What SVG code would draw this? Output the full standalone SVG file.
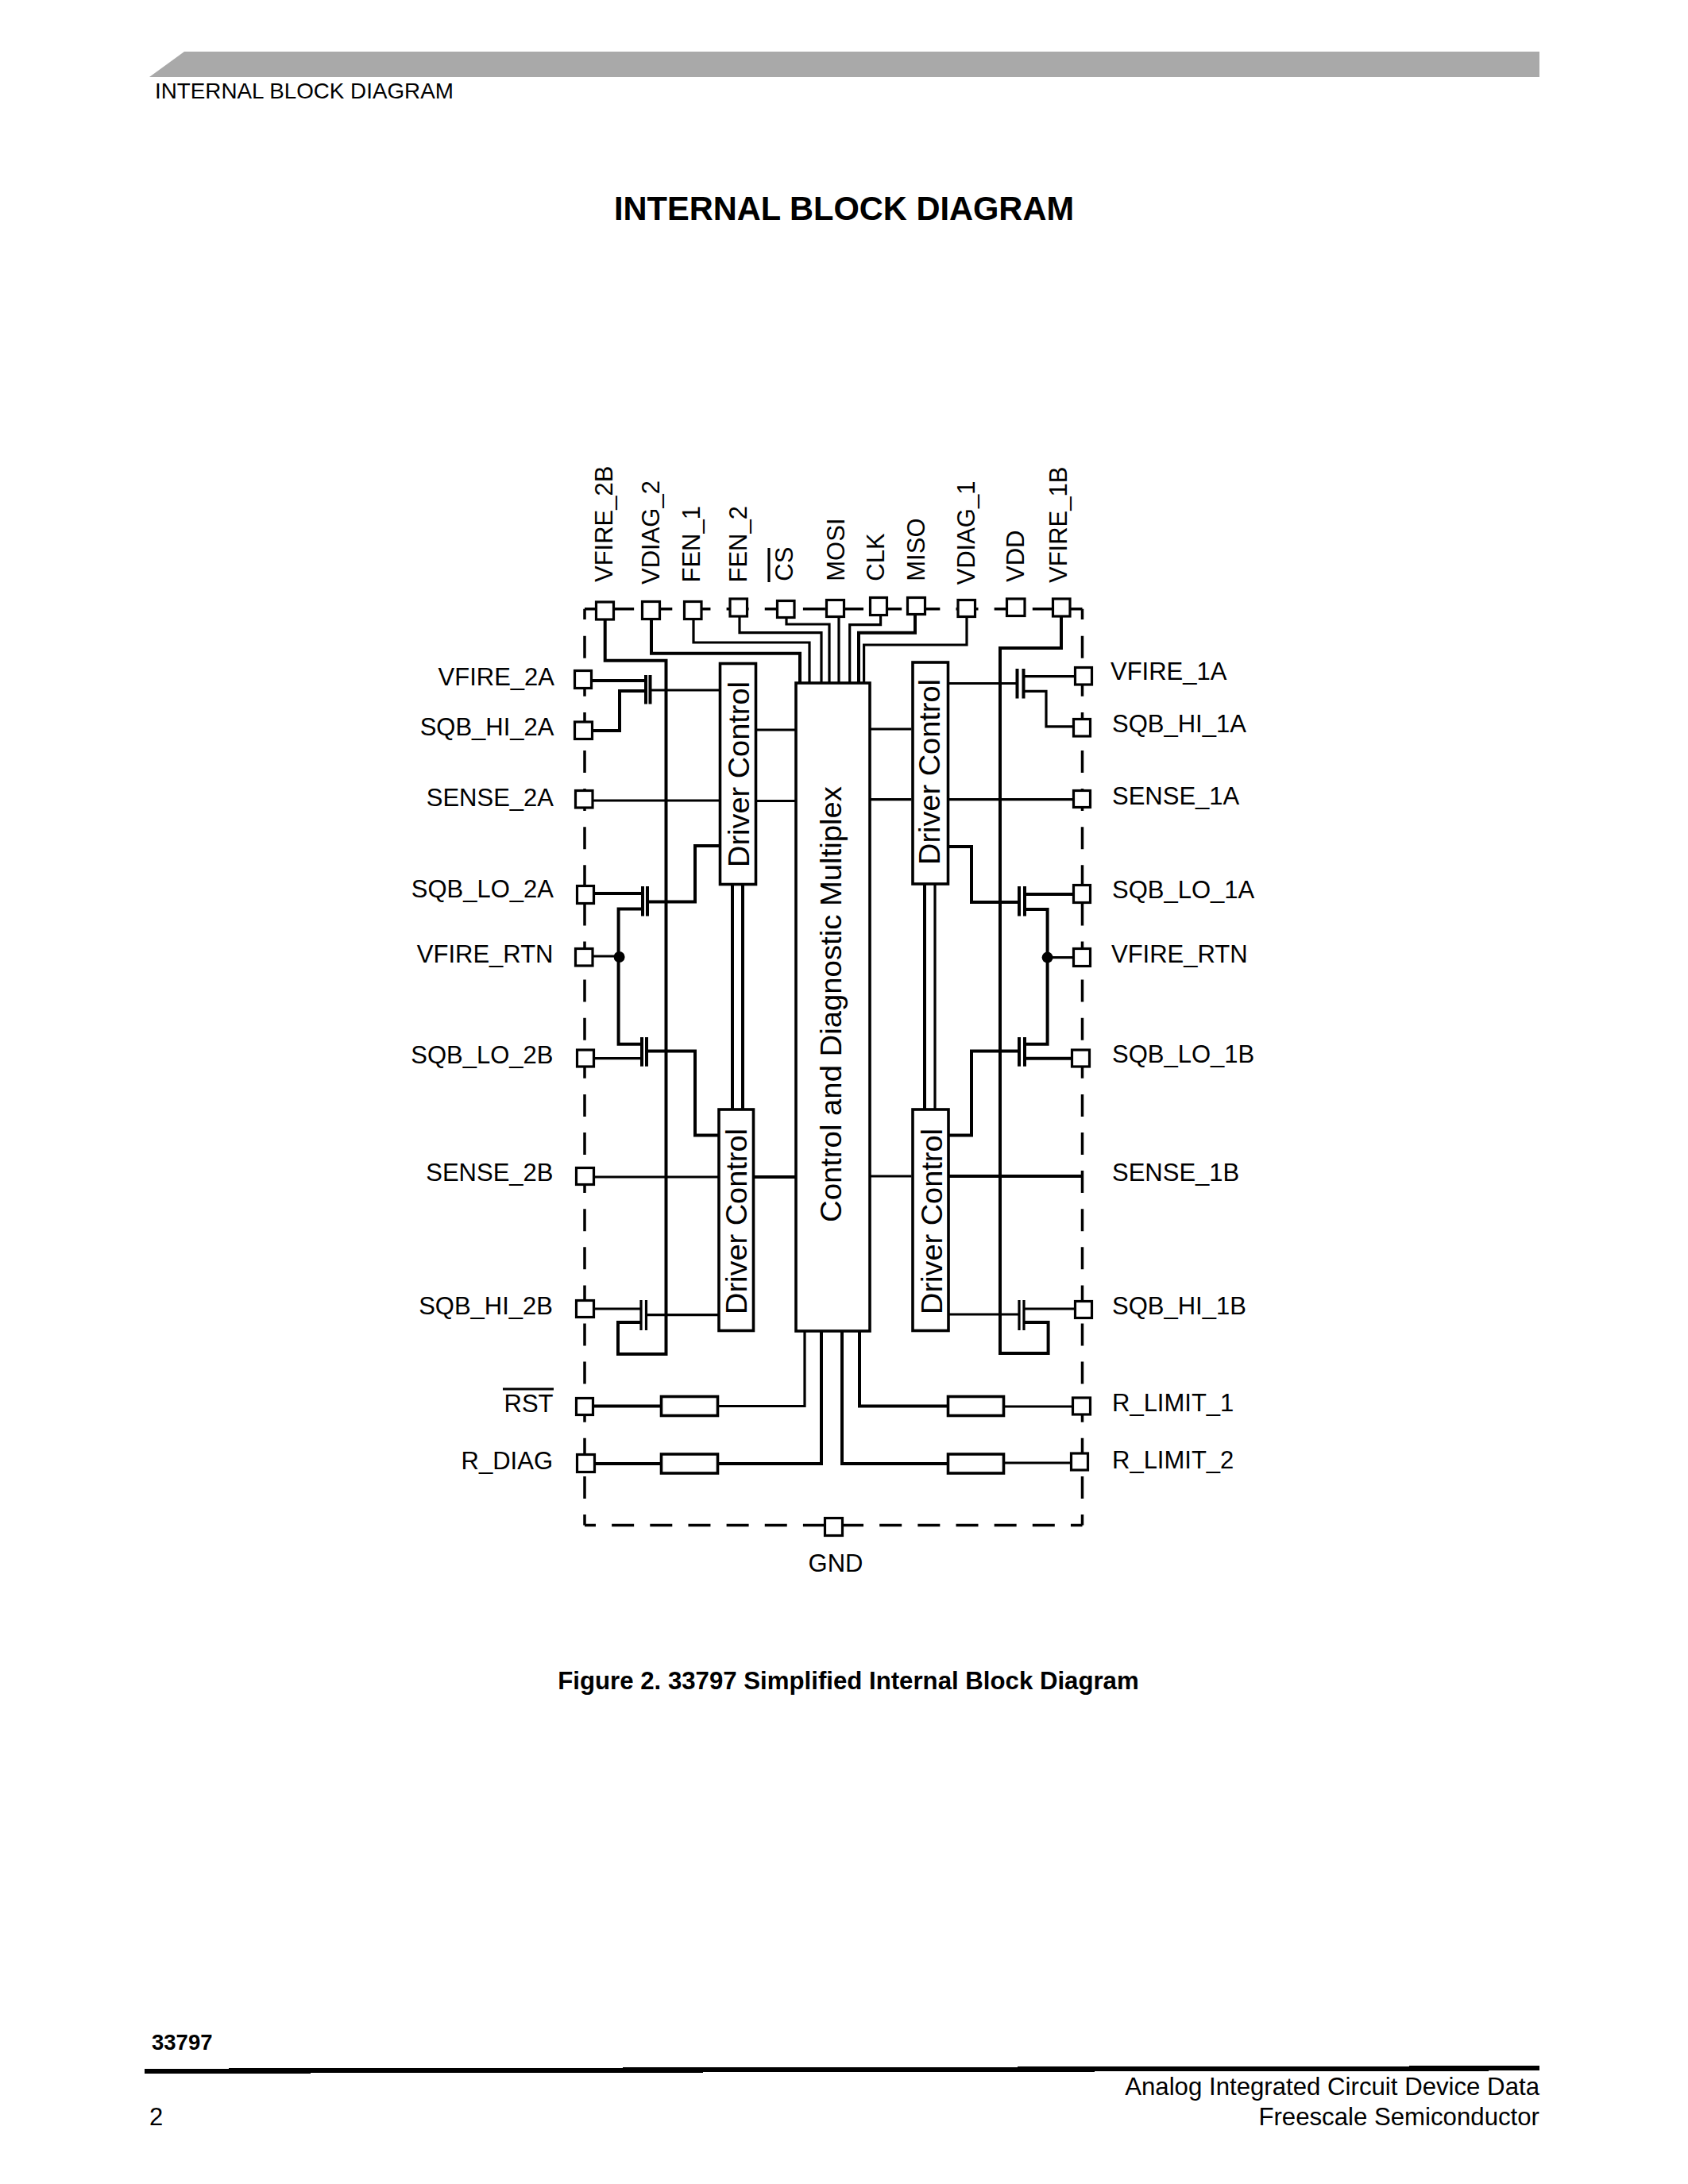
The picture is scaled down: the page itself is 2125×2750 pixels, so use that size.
<svg xmlns="http://www.w3.org/2000/svg" width="2125" height="2750" viewBox="0 0 2125 2750">
<style>
text{font-family:"Liberation Sans",Arial,sans-serif;fill:#000}
.l{font-size:31px}
.e{text-anchor:end}
.b{font-weight:bold}
.pad{fill:#fff;stroke:#000;stroke-width:3.2}
.box{fill:#fff;stroke:#000;stroke-width:3.6}
.w{fill:none;stroke:#000;stroke-width:3.2;stroke-linejoin:miter}
.t{fill:none;stroke:#000;stroke-width:4;stroke-linejoin:miter}
.d{fill:none;stroke:#000;stroke-width:3.5;stroke-dasharray:28 20.1}
.dh{fill:none;stroke:#000;stroke-width:3.5;stroke-dasharray:28 20.15;stroke-dashoffset:14}
.ln{fill:none;stroke:#000;stroke-width:3.2}
</style>
<rect width="2125" height="2750" fill="#fff"/>
<g id="page">
<polygon points="188,97 232,65 1938,65 1938,97" fill="#a9a9a9"/>
<text x="195" y="124" font-size="27.8">INTERNAL BLOCK DIAGRAM</text>
<text x="1062.5" y="277" font-size="41.6" class="b" text-anchor="middle">INTERNAL BLOCK DIAGRAM</text>
<text x="1068" y="2127" font-size="31.2" class="b" text-anchor="middle">Figure 2. 33797 Simplified Internal Block Diagram</text>
<text x="191" y="2581" font-size="27.5" class="b">33797</text>
<polygon points="182,2605 288,2605 288,2604 784,2604 784,2603 1281,2603 1281,2602 1774,2602 1774,2601 1938,2601 1938,2607 1874,2607 1874,2608 1378,2608 1378,2609 885,2609 885,2610 391,2610 391,2611 182,2611"/>
<text x="1938" y="2638" font-size="31.2" text-anchor="end">Analog Integrated Circuit Device Data</text>
<text x="1938" y="2676" font-size="31.2" text-anchor="end">Freescale Semiconductor</text>
<text x="188" y="2676" font-size="31">2</text>
</g>
<g id="boundary">
<path class="d" d="M736,800.7V1920.5"/>
<path class="d" d="M1362.5,800.7V1920.5"/>
<path class="dh" d="M736,1920.5H1362.5"/>
<path class="dh" d="M736,766.7H1362.5"/>
<path class="ln" style="stroke-width:3.5" d="M736,780V766.7M1362.5,780V766.7"/>
</g>
<g id="connectors">
<path class="t" d="M761.7,781V831.7H838.5V1705H778V1665H807"/>
<path class="t" d="M820,781V822.7H1007V859"/>
<path class="w" d="M873,781V809H1019V859"/>
<path class="w" d="M931,777V796.7H1034V859"/>
<path class="w" d="M990,779V786H1044V859"/>
<path class="w" d="M1056,778V859"/>
<path class="w" d="M1108.6,775V786.7H1069.7V859"/>
<path class="t" d="M1152,775V796.7H1081V859"/>
<path class="w" d="M1217,777V812H1087.6V859"/>
<path class="t" d="M1336,777V816H1259V1704H1319.6V1665H1289"/>
<path class="t" d="M746,857H812"/>
<path class="t" d="M747,920H780V870H812"/>
<path class="w" d="M818,869H905"/>
<path class="w" d="M747,1008H905"/>
<path class="w" d="M952,919H1001M952,1008.5H1001"/>
<path class="t" d="M905,1065H875V1135.6H815"/>
<path class="t" d="M749,1125H809"/>
<path class="t" d="M809,1144.5H778.6V1314.7H808"/>
<path class="w" d="M746,1204H780"/>
<path class="w" d="M749,1332.7H808"/>
<path class="t" d="M814,1323.5H875V1429.5H904"/>
<path class="t" d="M922,1114V1396M935,1114V1396"/>
<path class="w" d="M749,1482H906"/>
<path class="t" d="M949,1482H1001"/>
<path class="w" d="M748,1648H806"/>
<path class="w" d="M813,1655.6H904"/>
<path class="t" d="M747,1770.5H831"/>
<path class="w" d="M904,1770.5H1013V1676"/>
<path class="t" d="M750,1843H831"/>
<path class="t" d="M904,1843H1034V1676"/>
<path class="t" d="M1060,1676V1843H1192"/>
<path class="t" d="M1082,1676V1770.5H1192"/>
<path class="w" d="M1264,1771H1349"/>
<path class="w" d="M1264,1842H1347"/>
<path class="w" d="M1095,918H1147.5M1095,1006.7H1147.5M1095,1481H1147.5"/>
<path class="w" d="M1194,860.5H1280"/>
<path class="w" d="M1289,851.7H1352"/>
<path class="w" d="M1289,870.4H1317V914.8H1350"/>
<path class="w" d="M1194,1006.7H1351"/>
<path class="t" d="M1194,1066H1223V1136H1283"/>
<path class="t" d="M1290,1126H1350"/>
<path class="t" d="M1290,1145H1318.6V1314.7H1290"/>
<path class="w" d="M1318,1205.6H1350"/>
<path class="t" d="M1283,1323.5H1223V1429.5H1194.6"/>
<path class="t" d="M1290,1332.7H1348"/>
<path class="t" d="M1164,1114V1396"/>
<path class="w" d="M1177,1114V1396"/>
<path class="t" d="M1194.6,1481H1362.5"/>
<path class="w" d="M1194.6,1655H1283"/>
<path class="w" d="M1289,1648H1352"/>
</g>
<g id="fets">
<path class="t" d="M813,850V886.5M818.5,850V886.5"/>
<path class="t" d="M809,1116V1153.6M815,1116V1153.6"/>
<path class="t" d="M808,1306V1342.7M814,1306V1342.7"/>
<path class="w" d="M807,1637V1675M813.5,1637V1675"/>
<path class="t" d="M1280.5,842V879.6M1288.5,842V879.6"/>
<path class="t" d="M1283,1116V1153.6M1290,1116V1153.6"/>
<path class="t" d="M1283,1306V1342.7M1290,1306V1342.7"/>
<path class="w" d="M1283,1637V1675M1289,1637V1675"/>
<circle cx="779.6" cy="1205" r="7"/>
<circle cx="1318.6" cy="1205.6" r="7"/>
</g>
<g id="mux">
<rect class="box" x="1002" y="860" width="93" height="816"/>
<text font-size="37" transform="translate(1059,1539) rotate(-90)" textLength="549" lengthAdjust="spacingAndGlyphs">Control and Diagnostic Multiplex</text>
</g>
<g id="driver-2a">
<rect class="box" x="906.5" y="835.5" width="45" height="278"/>
<text font-size="37" transform="translate(943,1092) rotate(-90)" textLength="234" lengthAdjust="spacingAndGlyphs">Driver Control</text>
</g>
<g id="driver-2b">
<rect class="box" x="905" y="1397" width="43.5" height="278.5"/>
<text font-size="37" transform="translate(940,1655) rotate(-90)" textLength="234" lengthAdjust="spacingAndGlyphs">Driver Control</text>
</g>
<g id="driver-1a">
<rect class="box" x="1149" y="834" width="44.5" height="279"/>
<text font-size="37" transform="translate(1183,1089) rotate(-90)" textLength="234" lengthAdjust="spacingAndGlyphs">Driver Control</text>
</g>
<g id="driver-1b">
<rect class="box" x="1149" y="1397" width="45" height="278.5"/>
<text font-size="37" transform="translate(1185.7,1655) rotate(-90)" textLength="234" lengthAdjust="spacingAndGlyphs">Driver Control</text>
</g>
<g id="r-rst"><rect class="box" x="832.5" y="1758.5" width="71" height="24"/></g>
<g id="r-diag"><rect class="box" x="832.5" y="1831" width="71" height="24"/></g>
<g id="r-limit-1"><rect class="box" x="1193.5" y="1758.5" width="70" height="24"/></g>
<g id="r-limit-2"><rect class="box" x="1193.5" y="1831" width="70" height="24"/></g>

<g id="pin-vfire-2b"><rect class="pad" x="750.5" y="758" width="22" height="22"/><text class="l" transform="translate(770.6,733) rotate(-90)">VFIRE_2B</text></g>
<g id="pin-vdiag-2"><rect class="pad" x="808.5" y="757.5" width="22" height="22"/><text class="l" transform="translate(829.6,736) rotate(-90)">VDIAG_2</text></g>
<g id="pin-fen-1"><rect class="pad" x="861.5" y="757.5" width="21.5" height="22"/><text class="l" transform="translate(881,733.5) rotate(-90)">FEN_1</text></g>
<g id="pin-fen-2"><rect class="pad" x="919" y="754" width="21.5" height="22"/><text class="l" transform="translate(940,733.5) rotate(-90)">FEN_2</text></g>
<g id="pin-cs"><rect class="pad" x="978.5" y="756.5" width="21.5" height="21"/><text class="l" transform="translate(998,731.7) rotate(-90)">CS</text><path class="ln" d="M968,733V690"/></g>
<g id="pin-mosi"><rect class="pad" x="1040.5" y="755.5" width="22" height="21"/><text class="l" transform="translate(1063,731.7) rotate(-90)">MOSI</text></g>
<g id="pin-clk"><rect class="pad" x="1095.5" y="752.5" width="21" height="22"/><text class="l" transform="translate(1113,731.7) rotate(-90)">CLK</text></g>
<g id="pin-miso"><rect class="pad" x="1142.5" y="752.5" width="22" height="21"/><text class="l" transform="translate(1163.5,731.7) rotate(-90)">MISO</text></g>
<g id="pin-vdiag-1"><rect class="pad" x="1206" y="755.5" width="21.5" height="21"/><text class="l" transform="translate(1227,736.5) rotate(-90)">VDIAG_1</text></g>
<g id="pin-vdd"><rect class="pad" x="1267.5" y="754" width="22.5" height="21.5"/><text class="l" transform="translate(1289,733) rotate(-90)">VDD</text></g>
<g id="pin-vfire-1b"><rect class="pad" x="1325.5" y="754" width="21.5" height="22"/><text class="l" transform="translate(1343,734) rotate(-90)">VFIRE_1B</text></g>

<g id="pin-vfire-2a"><rect class="pad" x="723.5" y="844.5" width="21" height="22"/><text class="l e" x="698" y="863">VFIRE_2A</text></g>
<g id="pin-sqb-hi-2a"><rect class="pad" x="723.5" y="909" width="22" height="21.5"/><text class="l e" x="697.5" y="926">SQB_HI_2A</text></g>
<g id="pin-sense-2a"><rect class="pad" x="724.5" y="995.5" width="21.5" height="21.5"/><text class="l e" x="697" y="1015">SENSE_2A</text></g>
<g id="pin-sqb-lo-2a"><rect class="pad" x="726.5" y="1115.5" width="21" height="22"/><text class="l e" x="697" y="1130">SQB_LO_2A</text></g>
<g id="pin-vfire-rtn-l"><rect class="pad" x="724.5" y="1194.5" width="21.5" height="21.5"/><text class="l e" x="696.5" y="1212">VFIRE_RTN</text></g>
<g id="pin-sqb-lo-2b"><rect class="pad" x="726.5" y="1322" width="21" height="21"/><text class="l e" x="696.5" y="1339">SQB_LO_2B</text></g>
<g id="pin-sense-2b"><rect class="pad" x="725.5" y="1470.5" width="22" height="21"/><text class="l e" x="696.5" y="1487">SENSE_2B</text></g>
<g id="pin-sqb-hi-2b"><rect class="pad" x="725.5" y="1637.5" width="22" height="21"/><text class="l e" x="696" y="1654.5">SQB_HI_2B</text></g>
<g id="pin-rst"><rect class="pad" x="725.5" y="1760.5" width="21" height="21"/><text class="l e" x="696.5" y="1778">RST</text><path class="ln" d="M633,1749H697"/></g>
<g id="pin-r-diag"><rect class="pad" x="726.5" y="1831.5" width="22" height="22"/><text class="l e" x="696" y="1850.4">R_DIAG</text></g>
<g id="pin-gnd"><rect class="pad" x="1038.5" y="1911.5" width="22" height="22"/><text class="l" x="1052" y="1979" text-anchor="middle">GND</text></g>

<g id="pin-vfire-1a"><rect class="pad" x="1353.5" y="840.5" width="21" height="21.5"/><text class="l" x="1398" y="855.5">VFIRE_1A</text></g>
<g id="pin-sqb-hi-1a"><rect class="pad" x="1351.5" y="905.5" width="21" height="21.5"/><text class="l" x="1400" y="921.5">SQB_HI_1A</text></g>
<g id="pin-sense-1a"><rect class="pad" x="1351.5" y="995.5" width="21" height="21"/><text class="l" x="1400" y="1012.5">SENSE_1A</text></g>
<g id="pin-sqb-lo-1a"><rect class="pad" x="1351.5" y="1114.5" width="21" height="22"/><text class="l" x="1400" y="1131">SQB_LO_1A</text></g>
<g id="pin-vfire-rtn-r"><rect class="pad" x="1351.5" y="1194.5" width="21" height="22"/><text class="l" x="1399" y="1212">VFIRE_RTN</text></g>
<g id="pin-sqb-lo-1b"><rect class="pad" x="1349.5" y="1322" width="22" height="21"/><text class="l" x="1400" y="1338">SQB_LO_1B</text></g>
<g id="pin-sense-1b"><text class="l" x="1400" y="1487">SENSE_1B</text></g>
<g id="pin-sqb-hi-1b"><rect class="pad" x="1353.5" y="1638.5" width="21" height="21"/><text class="l" x="1400" y="1654.5">SQB_HI_1B</text></g>
<g id="pin-r-limit-1"><rect class="pad" x="1350.5" y="1760" width="22" height="21"/><text class="l" x="1400" y="1777">R_LIMIT_1</text></g>
<g id="pin-r-limit-2"><rect class="pad" x="1348.5" y="1830" width="21" height="21"/><text class="l" x="1400" y="1849">R_LIMIT_2</text></g>
</svg>
